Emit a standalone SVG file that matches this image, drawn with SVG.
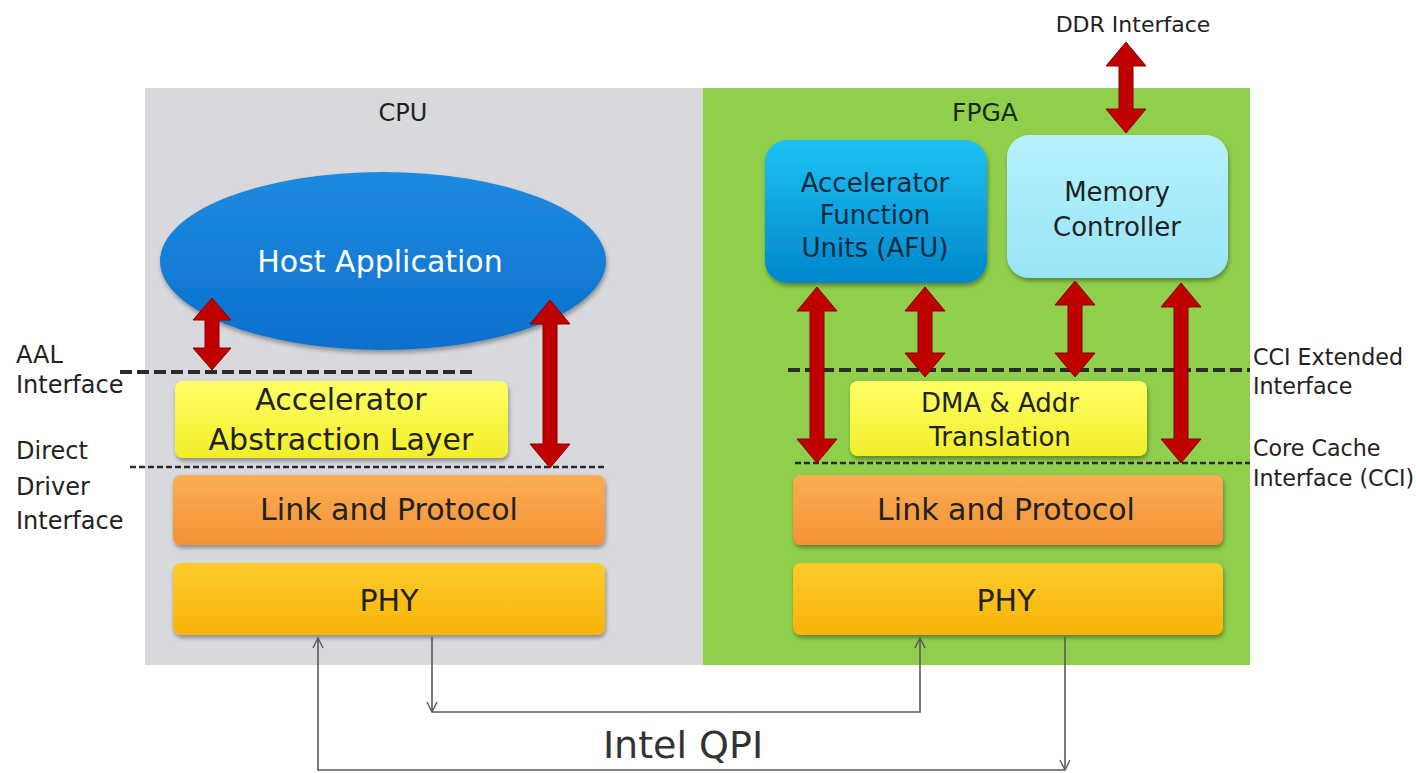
<svg xmlns="http://www.w3.org/2000/svg" width="1416" height="773" viewBox="0 0 1416 773">
<defs>
<style>
.t{font-family:"DejaVu Sans",Verdana,sans-serif;text-anchor:middle}
.lbl{font-family:"DejaVu Sans",Verdana,sans-serif;font-size:24px;fill:#222}
.lblr{font-family:"DejaVu Sans",Verdana,sans-serif;font-size:22.2px;fill:#222}
.red{fill:#c00000;stroke:#8a0000;stroke-width:1}
.qpi{fill:none;stroke:#5a5a5a;stroke-width:1.6}
.dk{stroke:#2b2b2b;fill:none}
</style>
<linearGradient id="gBlue" x1="0" y1="0" x2="0" y2="1"><stop offset="0" stop-color="#1f8ae0"/><stop offset="1" stop-color="#0a70cc"/></linearGradient>
<linearGradient id="gAfu" x1="0" y1="0" x2="0" y2="1"><stop offset="0" stop-color="#1ec2f4"/><stop offset="1" stop-color="#0086cc"/></linearGradient>
<linearGradient id="gMem" x1="0" y1="0" x2="0" y2="1"><stop offset="0" stop-color="#b7f2fd"/><stop offset="1" stop-color="#98e4f8"/></linearGradient>
<linearGradient id="gYel" x1="0" y1="0" x2="0" y2="1"><stop offset="0" stop-color="#ffff66"/><stop offset="1" stop-color="#f2ee2a"/></linearGradient>
<linearGradient id="gOra" x1="0" y1="0" x2="0" y2="1"><stop offset="0" stop-color="#fbae52"/><stop offset="1" stop-color="#f49138"/></linearGradient>
<linearGradient id="gPhy" x1="0" y1="0" x2="0" y2="1"><stop offset="0" stop-color="#ffcb2a"/><stop offset="1" stop-color="#f7b40a"/></linearGradient>
<filter id="sh" x="-10%" y="-10%" width="120%" height="130%"><feDropShadow dx="1" dy="3" stdDeviation="2" flood-color="#000" flood-opacity="0.35"/></filter>
<marker id="ah" viewBox="0 0 12 12" refX="11" refY="6" markerWidth="12" markerHeight="12" markerUnits="userSpaceOnUse" orient="auto"><path d="M1,1 L11,6 L1,11" fill="none" stroke="#5a5a5a" stroke-width="1.4"/></marker>
</defs>
<rect width="1416" height="773" fill="#fff"/>
<g id="cpu-panel"><rect x="145" y="88" width="558" height="577" fill="#d8d9dc"/><text class="t" x="403" y="121" font-size="24" fill="#222">CPU</text></g>
<g id="fpga-panel"><rect x="703" y="88" width="547" height="577" fill="#90cf4c"/><text class="t" x="985" y="121" font-size="25" fill="#1a2a10">FPGA</text></g>

<g id="host-app"><ellipse cx="383" cy="261" rx="223" ry="89" fill="url(#gBlue)" filter="url(#sh)"/><text class="t" x="380" y="272" font-size="30" fill="#fff">Host Application</text></g>

<g id="aal"><rect x="175" y="381" width="333" height="77" rx="8" fill="url(#gYel)" filter="url(#sh)"/><text class="t" x="341" y="410" font-size="30" fill="#222">Accelerator</text><text class="t" x="341" y="450" font-size="30" fill="#222">Abstraction Layer</text></g>
<g id="cpu-link"><rect x="173" y="475" width="432" height="70" rx="8" fill="url(#gOra)" filter="url(#sh)"/><text class="t" x="389" y="520" font-size="30" fill="#222">Link and Protocol</text></g>
<g id="cpu-phy"><rect x="173" y="563" width="432" height="72" rx="8" fill="url(#gPhy)" filter="url(#sh)"/><text class="t" x="389" y="611" font-size="30" fill="#222">PHY</text></g>

<g id="afu"><rect x="765" y="140" width="222" height="143" rx="22" fill="url(#gAfu)" filter="url(#sh)"/><text class="t" x="875" y="192" font-size="26" fill="#0a2a40">Accelerator</text><text class="t" x="875" y="224" font-size="26" fill="#0a2a40">Function</text><text class="t" x="875" y="257" font-size="26" fill="#0a2a40">Units (AFU)</text></g>
<g id="memctrl"><rect x="1007" y="135" width="221" height="143" rx="22" fill="url(#gMem)" filter="url(#sh)"/><text class="t" x="1117" y="201" font-size="26" fill="#222">Memory</text><text class="t" x="1117" y="236" font-size="26" fill="#222">Controller</text></g>
<g id="dma"><rect x="850" y="381" width="297" height="75" rx="8" fill="url(#gYel)" filter="url(#sh)"/><text class="t" x="1000" y="412" font-size="26" fill="#222">DMA &amp; Addr</text><text class="t" x="1000" y="446" font-size="26" fill="#222">Translation</text></g>
<g id="fpga-link"><rect x="793" y="475" width="430" height="70" rx="8" fill="url(#gOra)" filter="url(#sh)"/><text class="t" x="1006" y="520" font-size="30" fill="#222">Link and Protocol</text></g>
<g id="fpga-phy"><rect x="793" y="563" width="430" height="72" rx="8" fill="url(#gPhy)" filter="url(#sh)"/><text class="t" x="1006" y="611" font-size="30" fill="#222">PHY</text></g>

<g id="interfaces">
<line class="dk" x1="120" y1="372" x2="476" y2="372" stroke-width="4" stroke-dasharray="12,5"/>
<line class="dk" x1="130" y1="467" x2="606" y2="467" stroke-width="2.5" stroke-dasharray="6,3"/>
<line class="dk" x1="788" y1="370" x2="1250" y2="370" stroke-width="4" stroke-dasharray="12,5" stroke="#1f3a1a"/>
<line class="dk" x1="795" y1="463" x2="1250" y2="463" stroke-width="2.5" stroke-dasharray="6,3" stroke="#1f3a1a"/>
<text class="lbl" x="16" y="363">AAL</text><text class="lbl" x="16" y="393">Interface</text>
<text class="lbl" x="16" y="459">Direct</text><text class="lbl" x="16" y="495">Driver</text><text class="lbl" x="16" y="529">Interface</text>
<text class="lblr" x="1253" y="365">CCI Extended</text><text class="lblr" x="1253" y="394">Interface</text>
<text class="lblr" x="1253" y="456">Core Cache</text><text class="lblr" x="1253" y="486">Interface (CCI)</text>
<text class="t" x="1133" y="32" font-size="22" fill="#222">DDR Interface</text>
</g>

<g id="connectors">
<polygon class="red" points="212,298 231,320 219,320 219,348 231,348 212,370 193,348 205,348 205,320 193,320"/>
<polygon class="red" points="550,300 570,324 557,324 557,444 570,444 550,468 530,444 543,444 543,324 530,324"/>
<polygon class="red" points="1126,42 1146,66 1133,66 1133,109 1146,109 1126,133 1106,109 1119,109 1119,66 1106,66"/>
<polygon class="red" points="817,287 837,311 824,311 824,439 837,439 817,463 797,439 810,439 810,311 797,311"/>
<polygon class="red" points="925,287 945,311 932,311 932,353 945,353 925,377 905,353 918,353 918,311 905,311"/>
<polygon class="red" points="1075,281 1095,305 1082,305 1082,353 1095,353 1075,377 1055,353 1068,353 1068,305 1055,305"/>
<polygon class="red" points="1181,283 1201,307 1188,307 1188,439 1201,439 1181,463 1161,439 1174,439 1174,307 1161,307"/>
<path class="qpi" d="M1065,637 L1065,770" marker-end="url(#ah)"/>
<path class="qpi" d="M1065,770 L318,770 L318,638" marker-end="url(#ah)"/>
<path class="qpi" d="M432,637 L432,712" marker-end="url(#ah)"/>
<path class="qpi" d="M432,712 L920,712 L920,638" marker-end="url(#ah)"/>
<text class="t" x="683" y="758" font-size="38" fill="#333">Intel QPI</text>
</g>
</svg>
